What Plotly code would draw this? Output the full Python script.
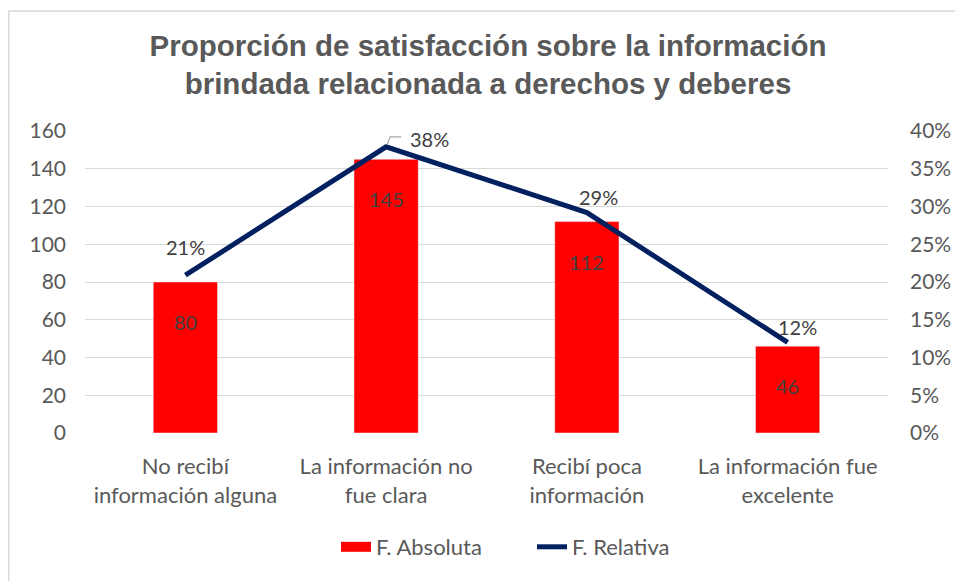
import plotly.graph_objects as go

categories = ["No recibí<br>información alguna", "La información no<br>fue clara",
              "Recibí poca<br>información", "La información fue<br>excelente"]
absoluta = [80, 145, 112, 46]
relativa = [0.209, 0.379, 0.292, 0.120]
rel_labels = ["21%", "38%", "29%", "12%"]
left_ticks = [0, 20, 40, 60, 80, 100, 120, 140, 160]
right_ticks = [0, 0.05, 0.10, 0.15, 0.20, 0.25, 0.30, 0.35, 0.40]
right_tick_text = ["0%", "5%", "10%", "15%", "20%", "25%", "30%", "35%", "40%"]

TXT = "#404040"
AX = "#595959"
FONT = "Lato, Carlito, Calibri, sans-serif"

fig = go.Figure()
fig.add_trace(go.Bar(x=categories, y=absoluta, name="F. Absoluta",
                     marker=dict(color="#FF0000"), width=0.32, yaxis="y", showlegend=False))
# legend entry for bars drawn as a wide red swatch
fig.add_trace(go.Scatter(x=[None], y=[None], name="F. Absoluta", mode="lines",
                         line=dict(color="#FF0000", width=13), yaxis="y"))
fig.add_trace(go.Scatter(x=categories, y=relativa, name="F. Relativa", mode="lines",
                         line=dict(color="#002060", width=5), yaxis="y2"))

annotations = []
for c, v in zip(categories, absoluta):
    annotations.append(dict(x=c, y=v, xref="x", yref="y", text=str(v), showarrow=False,
                            yshift=-40, font=dict(size=20, color=TXT, family=FONT)))
shifts = [(0, 28), (43, 8), (12, 16), (10, 15)]
for c, v, t, (dx, dy) in zip(categories, relativa, rel_labels, shifts):
    annotations.append(dict(x=c, y=v, xref="x", yref="y2", text=t, showarrow=False,
                            xshift=dx, yshift=dy, font=dict(size=20, color=TXT, family=FONT)))

# leader line for 38%
shapes = [
    dict(type="path", xref="x", yref="y2", xsizemode="pixel", ysizemode="pixel",
         xanchor=categories[1], yanchor=relativa[1], path="M 1,2 L 4,10 L 15,10",
         line=dict(color="#A6A6A6", width=1.2)),
    dict(type="rect", xref="paper", yref="paper", x0=-0.095, x1=1.2, y0=-0.6, y1=1.397,
         line=dict(color="#D9D9D9", width=1.5), layer="below"),
]

fig.update_layout(
    width=955, height=581,
    margin=dict(l=85, r=67, t=131, b=148, autoexpand=False),
    paper_bgcolor="white", plot_bgcolor="white",
    font=dict(family=FONT, color=AX, size=21),
    title=dict(text="<b>Proporción de satisfacción sobre la información<br>brindada relacionada a derechos y deberes</b>",
               x=488 / 955, xref="container", xanchor="center", y=1 - 56 / 581, yanchor="top",
               font=dict(family="Liberation Sans, Arial, sans-serif", size=29.5, color=AX)),
    xaxis=dict(showgrid=False, showline=False, ticks="", tickfont=dict(size=22, color=AX),
               ticklabelstandoff=18, automargin=False),
    yaxis=dict(range=[0, 160], tickvals=left_ticks, showgrid=True, gridcolor="#D9D9D9",
               gridwidth=1, zeroline=False, ticks="", tickfont=dict(size=21, color=AX),
               ticklabelstandoff=18, automargin=False),
    yaxis2=dict(range=[0, 0.40], tickvals=right_ticks, ticktext=right_tick_text,
                overlaying="y", side="right", showgrid=False, zeroline=False, ticks="",
                tickfont=dict(size=21, color=AX), ticklabelstandoff=21, automargin=False),
    legend=dict(orientation="h", x=532 / 955, xanchor="center", xref="container",
                y=1 - 547 / 581, yanchor="middle", yref="container",
                font=dict(size=22, color=AX), traceorder="normal",
                entrywidth=151, entrywidthmode="pixels"),
    annotations=annotations,
    shapes=shapes,
)

fig.write_html("out.html", config={"displayModeBar": False},
               post_script="document.body.style.margin='0';")
